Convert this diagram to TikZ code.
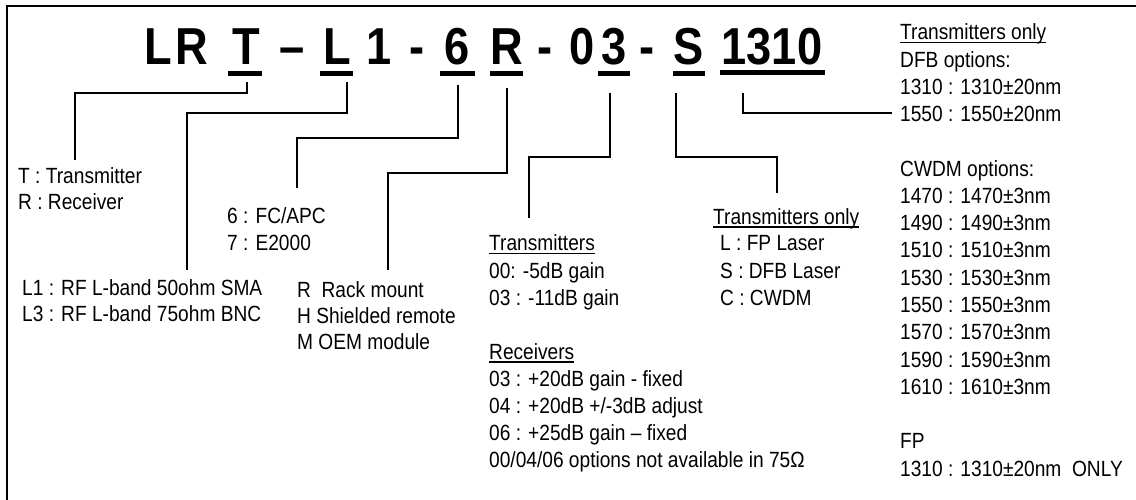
\documentclass[tikz,border=0pt]{standalone}
\usepackage{fontspec}
\setmainfont{Liberation Sans}[FakeStretch=0.87]
\newsavebox\ulbox
\newcommand{\ulin}[1]{\sbox\ulbox{#1}\rlap{\rule[-3.5pt]{\wd\ulbox}{1.6pt}}\usebox\ulbox}
\tikzset{
  txt/.style={font=\fontsize{22}{27}\selectfont, inner sep=0pt, anchor=base west},
  ttl/.style={font=\fontsize{52}{60}\selectfont\bfseries, inner sep=0pt, anchor=base},
  ubar/.style={line width=5pt},
  conn/.style={line width=1.4pt},
  frameline/.style={line width=2.6pt}
}
\begin{document}
\begin{tikzpicture}[x=1pt,y=-1pt]
\useasboundingbox (0,0) rectangle (1136,500);
\draw[frameline] (7,501) -- (7,6) -- (1137,6);
% title
\node[ttl] (c1) at (158,65) {L};
\node[ttl] (c2) at (192,65) {R};
\node[ttl] (c3) at (246,65) {T};
\node[ttl] (c4) at (292,65) {–};
\node[ttl] (c5) at (337,65) {L};
\node[ttl] (c6) at (379,65) {1};
\node[ttl] (c7) at (417,65) {-};
\node[ttl] (c8) at (457,65) {6};
\node[ttl] (c9) at (507,65) {R};
\node[ttl] (c10) at (545,65) {-};
\node[ttl] (c11) at (582,65) {0};
\node[ttl] (c12) at (614,65) {3};
\node[ttl] (c13) at (647,65) {-};
\node[ttl] (c14) at (689,65) {S};
\node[ttl] (c15) at (772,65) {1310};
\draw[ubar] (228,74) -- (262,74);
\draw[ubar] (320,74) -- (353,74);
\draw[ubar] (440,74) -- (475,74);
\draw[ubar] (490,74) -- (523,74);
\draw[ubar] (598,74) -- (630,74);
\draw[ubar] (673,74) -- (705,74);
\draw[ubar] (720,73) -- (825,73);
% connector points
\coordinate (pT) at (247,82);   \coordinate (qT) at (75,93);   \coordinate (eT) at (75,160);
\coordinate (pL) at (347,82);   \coordinate (qL) at (187,113); \coordinate (eL) at (187,270);
\coordinate (p6) at (458,85);   \coordinate (q6) at (297,138); \coordinate (e6) at (297,188);
\coordinate (pR) at (507,88);   \coordinate (qR) at (388,173); \coordinate (eR) at (388,270);
\coordinate (p3) at (610,93);   \coordinate (q3) at (529,157); \coordinate (e3) at (529,218);
\coordinate (pS) at (676,93);   \coordinate (qS) at (777,157); \coordinate (eS) at (777,193);
\coordinate (pN) at (743,93);   \coordinate (eN) at (892,113);
\draw[conn] (pT) |- (qT) -- (eT);
\draw[conn] (pL) |- (qL) -- (eL);
\draw[conn] (p6) |- (q6) -- (e6);
\draw[conn] (pR) |- (qR) -- (eR);
\draw[conn] (p3) |- (q3) -- (e3);
\draw[conn] (pS) |- (qS) -- (eS);
\draw[conn] (pN) |- (eN);
% left texts
\node[txt] (t1) at (18,184) {T : Transmitter};
\node[txt] (t2) at (18,210) {R : Receiver};
\node[txt] (f1) at (227,223) {6 : FC/APC};
\node[txt] (f2) at (227,250) {7 : E2000};
\node[txt] (l1) at (22,295) {L1 : RF L-band 50ohm SMA};
\node[txt] (l2) at (22,321) {L3 : RF L-band 75ohm BNC};
\node[txt] (h1) at (297,297) {R\ \ Rack mount};
\node[txt] (h2) at (297,323) {H Shielded remote};
\node[txt] (h3) at (297,349) {M OEM module};
% gain block
\node[txt] (g1) at (489,251) {\ulin{Transmitters}};
\node[txt] (g2) at (489,278) {00: -5dB gain};
\node[txt] (g3) at (489,305) {03 : -11dB gain};
\node[txt] (g4) at (489,359) {\ulin{Receivers}};
\node[txt] (g5) at (489,386) {03 : +20dB gain - fixed};
\node[txt] (g6) at (489,413) {04 : +20dB +/-3dB adjust};
\node[txt] (g7) at (489,440) {06 : +25dB gain – fixed};
\node[txt] (g8) at (489,467) {00/04/06 options not available in 75Ω};
% laser block
\node[txt] (s1) at (713,224) {\ulin{Transmitters only}};
\node[txt] (s2) at (720,251) {L : FP Laser};
\node[txt] (s3) at (720,278) {S : DFB Laser};
\node[txt] (s4) at (720,305) {C : CWDM};
% right column
\node[txt] (r1) at (900,40) {\ulin{Transmitters only}};
\node[txt] (r2) at (900,67.25) {DFB options:};
\node[txt] (r3) at (900,94.5) {1310 : 1310±20nm};
\node[txt] (r4) at (900,121.75) {1550 : 1550±20nm};
\node[txt] (r6) at (900,176.25) {CWDM options:};
\node[txt] (r7) at (900,203.5) {1470 : 1470±3nm};
\node[txt] (r8) at (900,230.75) {1490 : 1490±3nm};
\node[txt] (r9) at (900,258) {1510 : 1510±3nm};
\node[txt] (r10) at (900,285.25) {1530 : 1530±3nm};
\node[txt] (r11) at (900,312.5) {1550 : 1550±3nm};
\node[txt] (r12) at (900,339.75) {1570 : 1570±3nm};
\node[txt] (r13) at (900,367) {1590 : 1590±3nm};
\node[txt] (r14) at (900,394.25) {1610 : 1610±3nm};
\node[txt] (r16) at (900,448.75) {FP};
\node[txt] (r17) at (900,476) {1310 : 1310±20nm\ \ ONLY};
\end{tikzpicture}
\end{document}
